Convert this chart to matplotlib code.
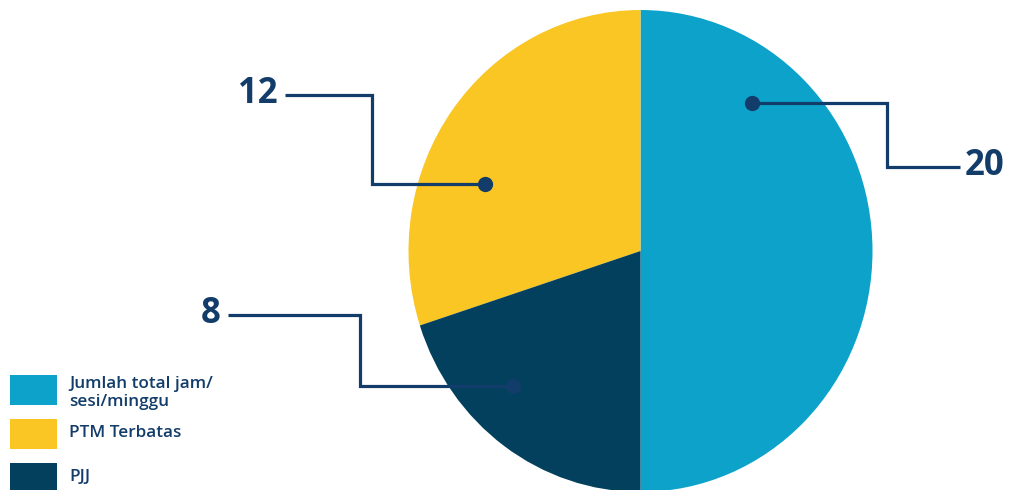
import matplotlib
matplotlib.use("Agg")
import matplotlib.pyplot as plt
from matplotlib.patches import Rectangle

# ---- data ----
categories = ["Jumlah total jam/\nsesi/minggu", "PTM Terbatas", "PJJ"]
values = [20, 12, 8]
colors = ["#0ca2ca", "#f9c623", "#02405d"]
value_labels = [str(v) for v in values]

INK = "#123c69"
FONT = ["Open Sans", "DejaVu Sans"]

W, H = 1010, 490
fig = plt.figure(figsize=(W / 100, H / 100), dpi=100)
fig.patch.set_facecolor("white")

# pie axes (pie bounding box in pixels)
cx, cy, rx, ry = 640.5, 251, 232, 241
pax = fig.add_axes([(cx - rx) / W, (H - (cy + ry)) / H, 2 * rx / W, 2 * ry / H])
pax.pie(values, colors=colors, startangle=-90, counterclock=True,
        radius=1, wedgeprops=dict(linewidth=0))
pax.set_xlim(-1, 1)
pax.set_ylim(-1, 1)
pax.set_aspect("auto")
pax.axis("off")

# overlay axes in pixel coordinates
ax = fig.add_axes([0, 0, 1, 1], facecolor="none")
ax.set_xlim(0, W)
ax.set_ylim(H, 0)
ax.axis("off")

# leader lines: (dot, elbow x, label y, label end x, text x, ha)
leaders = [
    dict(dot=(752, 103), elbow=887, ly=167, end=960, tx=965, ha="left"),
    dict(dot=(485, 184), elbow=372, ly=95, end=285, tx=278, ha="right"),
    dict(dot=(513, 386), elbow=360, ly=315, end=228, tx=221, ha="right"),
]
for lab, L in zip(value_labels, leaders):
    dx, dy = L["dot"]
    xs = [dx, L["elbow"], L["elbow"], L["end"]]
    ys = [dy, dy, L["ly"], L["ly"]]
    ax.plot(xs, ys, color=INK, lw=2.3, solid_joinstyle="miter", solid_capstyle="butt")
    ax.plot([dx], [dy], "o", color=INK, ms=11, mec="none")
    ax.text(L["tx"], L["ly"] - 1, lab, ha=L["ha"], va="center", fontsize=25,
            fontweight="bold", color=INK, family=FONT)

# legend
box_x, box_w, box_h = 10, 47, 30
box_tops = [375, 419, 463]
text_y = [393, 433, 477]
for lab, col, top, ty in zip(categories, colors, box_tops, text_y):
    ax.add_patch(Rectangle((box_x, top), box_w, box_h, facecolor=col, edgecolor="none"))
    ax.text(69, ty, lab, ha="left", va="center",
            fontsize=12.3, fontweight="semibold", color=INK, family=FONT,
            linespacing=1.2)

fig.savefig("out.png", dpi=100)
